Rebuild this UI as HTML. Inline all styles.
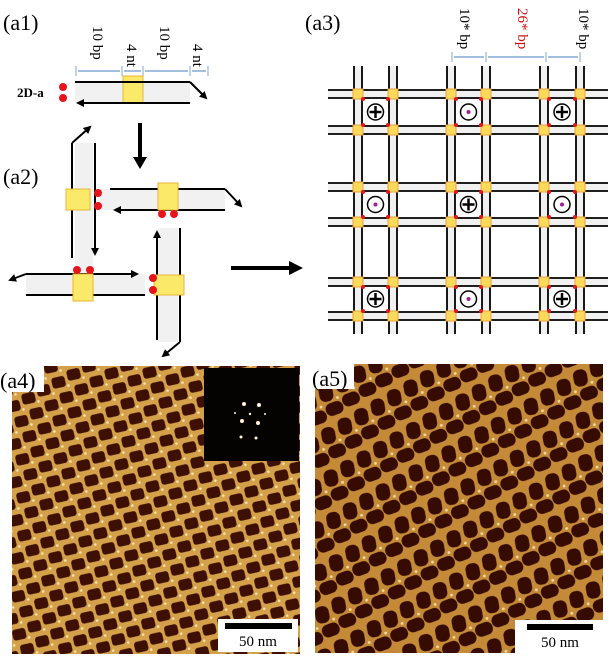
<!DOCTYPE html>
<html><head><meta charset="utf-8"><style>
html,body{margin:0;padding:0;background:#fff;width:616px;height:657px;overflow:hidden}
svg{display:block}
text{font-family:"Liberation Serif",serif}
</style></head><body>
<svg id="s" width="616" height="657" viewBox="0 0 616 657" xmlns="http://www.w3.org/2000/svg">
<defs>
<marker id="ah" markerWidth="8" markerHeight="8" refX="6" refY="4" orient="auto" markerUnits="userSpaceOnUse"><path d="M0,0 L8,4 L0,8 z" fill="#000"/></marker>
<pattern id="p4" width="17" height="17" patternUnits="userSpaceOnUse" patternTransform="rotate(-28)">
<rect width="17" height="17" fill="#d4a14a"/>
<rect x="1.5" y="2.5" width="13.5" height="11" rx="3" fill="#3e1003" transform="rotate(15 8 8)"/>
<circle cx="15.5" cy="15.5" r="1.3" fill="#f5e6b0"/>
</pattern>
<pattern id="p5" width="19" height="38" patternUnits="userSpaceOnUse" patternTransform="rotate(-30)">
<rect width="19" height="38" fill="#c48a38"/>
<rect x="2.5" y="1" width="14" height="17" rx="6" fill="#360b02" transform="rotate(20 9.5 10)"/>
<rect x="0.5" y="20.5" width="18" height="13" rx="6" fill="#360b02" transform="rotate(10 9.5 27)"/>
<circle cx="17.5" cy="19" r="1.4" fill="#f3dca0"/>
</pattern>
</defs>
<g id="g"></g>

<rect x="12" y="366" width="288" height="288" fill="url(#p4)"/>
<rect x="204" y="368" width="95" height="93" fill="#050302"/>
<g fill="#fff3d8">
<circle cx="244" cy="404" r="2"/><circle cx="259" cy="405" r="2"/><circle cx="242" cy="421" r="2"/><circle cx="258" cy="423" r="2"/><circle cx="241" cy="437" r="1.5"/><circle cx="256" cy="438" r="1.5"/><circle cx="250" cy="414" r="1.2"/><circle cx="235" cy="413" r="1"/><circle cx="265" cy="414" r="1"/>
</g>
<rect x="315" y="364" width="288" height="289" fill="url(#p5)"/>
<rect x="0" y="364" width="44" height="28" fill="#fff"/>
<rect x="310" y="362" width="44" height="27" fill="#fff"/>
<text x="0" y="388" font-size="22">(a4)</text>
<text x="312" y="386" font-size="22">(a5)</text>
<rect x="218" y="619" width="80" height="33" fill="#fff"/>
<rect x="225" y="623" width="67" height="6" fill="#000"/>
<text x="258" y="646" font-size="15" text-anchor="middle">50 nm</text>
<rect x="515" y="620" width="88" height="33" fill="#fff"/>
<rect x="527" y="624" width="66" height="6" fill="#000"/>
<text x="560" y="647" font-size="15" text-anchor="middle">50 nm</text>

<text x="3" y="30" font-size="22">(a1)</text>
<text x="3" y="184" font-size="22">(a2)</text>
<text x="305" y="30" font-size="22">(a3)</text>
<text x="17" y="97" font-size="13" font-weight="bold">2D-a</text>
<g font-size="15">
<text transform="translate(93,26) rotate(90)">10 bp</text>
<text transform="translate(127,44) rotate(90)">4 nt</text>
<text transform="translate(160,26) rotate(90)">10 bp</text>
<text transform="translate(193,44) rotate(90)">4 nt</text>
<text transform="translate(460,8) rotate(90)">10* bp</text>
<text transform="translate(518,8) rotate(90)" fill="#d01010">26* bp</text>
<text transform="translate(579,8) rotate(90)">10* bp</text>
</g>
</svg>
<script>
var g=document.getElementById('g'),NS='http://www.w3.org/2000/svg';
function el(t,a){var e=document.createElementNS(NS,t);for(var k in a)e.setAttribute(k,a[k]);g.appendChild(e);return e;}
function line(x1,y1,x2,y2,w,m){var a={x1:x1,y1:y1,x2:x2,y2:y2,stroke:'#000','stroke-width':w||2};if(m)a['marker-end']='url(#ah)';el('line',a);}
function rect(x,y,w,h,f,s){el('rect',{x:x,y:y,width:w,height:h,fill:f,stroke:s||'none'});}
function dot(x,y,r){el('circle',{cx:x,cy:y,r:r||4,fill:'#e8141b'});}
function yel(x,y,w,h){rect(x,y,w,h,'#fbe96a','#e9b23a');}
var dx=[76,122,143,190,208];
for(var i=0;i<dx.length;i++)el('line',{x1:dx[i],y1:66,x2:dx[i],y2:76,stroke:'#8aa6cc','stroke-width':1});
for(var i=0;i<4;i++)el('line',{x1:dx[i]+2,y1:71,x2:dx[i+1]-2,y2:71,stroke:'#4a7cc0','stroke-width':1});
rect(75,82,115,21,'#f1f1f1');yel(123,76,20,27);
line(75,82,190,82);line(190,82,206,98,2,1);line(190,103,78,103,2,1);
dot(63,87);dot(63,98);
line(140,123,140,160,4);el('path',{d:'M133,157 L147,157 L140,169 z',fill:'#000'});
rect(75,143,18,132,'#f1f1f1');rect(100,189,125,21,'#f1f1f1');rect(26,274,119,21,'#f1f1f1');rect(158,228,20,114,'#f1f1f1');
line(72,143,72,258);line(72,143,90,127,2,1);line(95,143,95,254,2,1);
line(110,189,225,189);line(225,189,241,206,2,1);line(225,210,115,210,2,1);
line(26,274,137,274,2,1);line(26,274,10,280,2,1);line(26,295,145,295);
line(157,340,157,232,2,1);line(180,228,180,342);line(180,342,163,356,2,1);
yel(66,189,24,21);yel(158,183,20,27);yel(73,274,20,27);yel(154,275,30,20);
dot(98,193);dot(98,206);dot(162,214);dot(174,214);dot(77,270);dot(90,270);dot(153,278);dot(153,290);
line(231,268,292,268,4);el('path',{d:'M289,261 L303,268 L289,275 z',fill:'#000'});
var d3=[452,486,546,580];
for(var i=0;i<d3.length;i++)el('line',{x1:d3[i],y1:52,x2:d3[i],y2:62,stroke:'#8aa6cc','stroke-width':1});
for(var i=0;i<3;i++)el('line',{x1:d3[i]+2,y1:57,x2:d3[i+1]-2,y2:57,stroke:'#4a7cc0','stroke-width':1});
var xs=[358,393,451,486,544,580],ys=[94,130,187,222,282,316];
for(var i=0;i<6;i++){rect(xs[i]-4,66,8,268,'#f1f1f1');line(xs[i]-4,66,xs[i]-4,334,1.8);line(xs[i]+4,66,xs[i]+4,334,1.8);}
for(var j=0;j<6;j++){rect(328,ys[j]-4,280,8,'#f1f1f1');line(328,ys[j]-4,608,ys[j]-4,1.8);line(328,ys[j]+4,608,ys[j]+4,1.8);}
for(var i=0;i<6;i++)for(var j=0;j<6;j++){rect(xs[i]-5,ys[j]-5,10,10,'#fbd95a','#eea23a');dot(xs[i]+(i%2?-5:5),ys[j]+(j%2?-5:5),2);}
var plus=[[0,0],[2,0],[1,1],[0,2],[2,2]];
for(var i=0;i<3;i++)for(var j=0;j<3;j++){var cx=(xs[2*i]+xs[2*i+1])/2,cy=(ys[2*j]+ys[2*j+1])/2;
 el('circle',{cx:cx,cy:cy,r:8,fill:'#fff',stroke:'#000','stroke-width':1.5});
 var p=plus.some(function(q){return q[0]==i&&q[1]==j});
 if(p){line(cx-6,cy,cx+6,cy,2.5);line(cx,cy-6,cx,cy+6,2.5);}else el('circle',{cx:cx,cy:cy,r:2,fill:'#a0209a'});}
</script>
</body></html>
